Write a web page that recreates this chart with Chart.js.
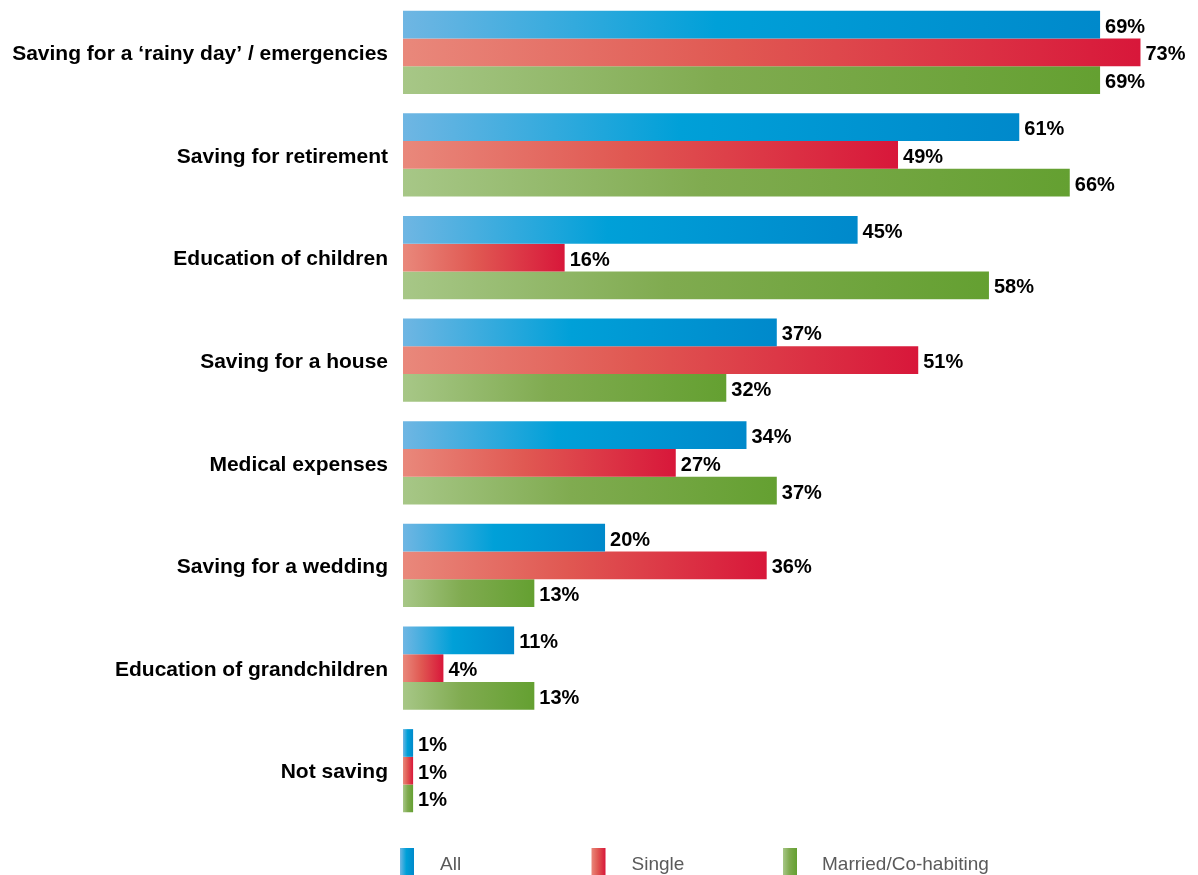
<!DOCTYPE html>
<html>
<head>
<meta charset="utf-8">
<script src="https://cdn.jsdelivr.net/npm/chart.js@4.4.1/dist/chart.umd.min.js"></script>
<style>
  html, body { margin: 0; padding: 0; background: #fff; }
  #wrap { width: 1198px; height: 875px; }
</style>
</head>
<body>
<div id="wrap"><canvas id="chart" width="1198" height="875"></canvas></div>
<script>
const categories = [
  "Saving for a \u2018rainy day\u2019 / emergencies",
  "Saving for retirement",
  "Education of children",
  "Saving for a house",
  "Medical expenses",
  "Saving for a wedding",
  "Education of grandchildren",
  "Not saving",
];
const seriesNames = ["All", "Single", "Married/Co-habiting"];
const allValues = [69, 61, 45, 37, 34, 20, 11, 1];
const singleValues = [73, 49, 16, 51, 27, 36, 4, 1];
const marriedValues = [69, 66, 58, 32, 37, 13, 13, 1];

// light -> full -> deep, applied across each bar's own length
const gradientStops = [
  ["#6fb6e3", "#00a0d8", "#0089cb"],
  ["#e9887b", "#e05852", "#d8173a"],
  ["#a7c787", "#80ab50", "#64a031"],
];

function barGradient(ctx, x0, x1, stops) {
  const g = ctx.createLinearGradient(x0, 0, Math.max(x1, x0 + 1), 0);
  g.addColorStop(0, stops[0]);
  g.addColorStop(0.45, stops[1]);
  g.addColorStop(1, stops[2]);
  return g;
}

function fillFor(idx) {
  return (context) => {
    const chart = context.chart;
    const xs = chart.scales.x;
    if (!chart.chartArea || !xs || context.raw === undefined) return gradientStops[idx][1];
    const x0 = xs.getPixelForValue(0);
    const x1 = xs.getPixelForValue(context.raw);
    return barGradient(chart.ctx, x0, x1, gradientStops[idx]);
  };
}

const valueLabels = {
  id: "valueLabels",
  afterDatasetsDraw(chart) {
    const ctx = chart.ctx;
    ctx.save();
    ctx.font = "bold 20px 'Liberation Sans', Arial, sans-serif";
    ctx.fillStyle = "#000";
    ctx.textAlign = "left";
    ctx.textBaseline = "middle";
    chart.data.datasets.forEach((ds, di) => {
      chart.getDatasetMeta(di).data.forEach((bar, i) => {
        ctx.fillText(ds.data[i] + "%", bar.x + 5, bar.y + 2.5);
      });
    });
    ctx.restore();
  }
};

const bottomLegend = {
  id: "bottomLegend",
  afterDraw(chart) {
    const ctx = chart.ctx;
    const left = chart.chartArea.left - 3;
    const top = 848;
    ctx.save();
    ctx.font = "19px 'Liberation Sans', Arial, sans-serif";
    ctx.textBaseline = "middle";
    ctx.textAlign = "left";
    chart.data.datasets.forEach((ds, di) => {
      const x = left + di * 191.5;
      ctx.fillStyle = barGradient(ctx, x, x + 14, gradientStops[di]);
      ctx.fillRect(x, top, 14, 30);
      ctx.fillStyle = "#5a5a5a";
      ctx.fillText(ds.label, x + 40 - (di === 2 ? 1 : 0), top + 17);
    });
    ctx.restore();
  }
};

new Chart(document.getElementById("chart"), {
  type: "bar",
  data: {
    labels: categories,
    datasets: [
      { label: seriesNames[0], data: allValues, backgroundColor: fillFor(0) },
      { label: seriesNames[1], data: singleValues, backgroundColor: fillFor(1) },
      { label: seriesNames[2], data: marriedValues, backgroundColor: fillFor(2) },
    ],
  },
  options: {
    indexAxis: "y",
    responsive: false,
    animation: false,
    layout: { padding: { top: 1, right: 7, bottom: 53, left: 0 } },
    datasets: {
      bar: { categoryPercentage: 0.81, barPercentage: 1.0, borderWidth: 0 },
    },
    scales: {
      x: {
        display: false,
        min: 0,
        max: 78,
      },
      y: {
        grid: { display: false, drawTicks: false },
        border: { display: false },
        ticks: {
          color: "#000",
          padding: 15,
          labelOffset: 2,
          font: { family: "'Liberation Sans', Arial, sans-serif", size: 21, weight: "bold" },
        },
        afterFit(scale) {
          scale.width = 403;
          scale.paddingTop = 0;
          scale.paddingBottom = 0;
        },
      },
    },
    plugins: {
      legend: { display: false },
      tooltip: { enabled: false },
    },
  },
  plugins: [valueLabels, bottomLegend],
});
</script>
</body>
</html>
